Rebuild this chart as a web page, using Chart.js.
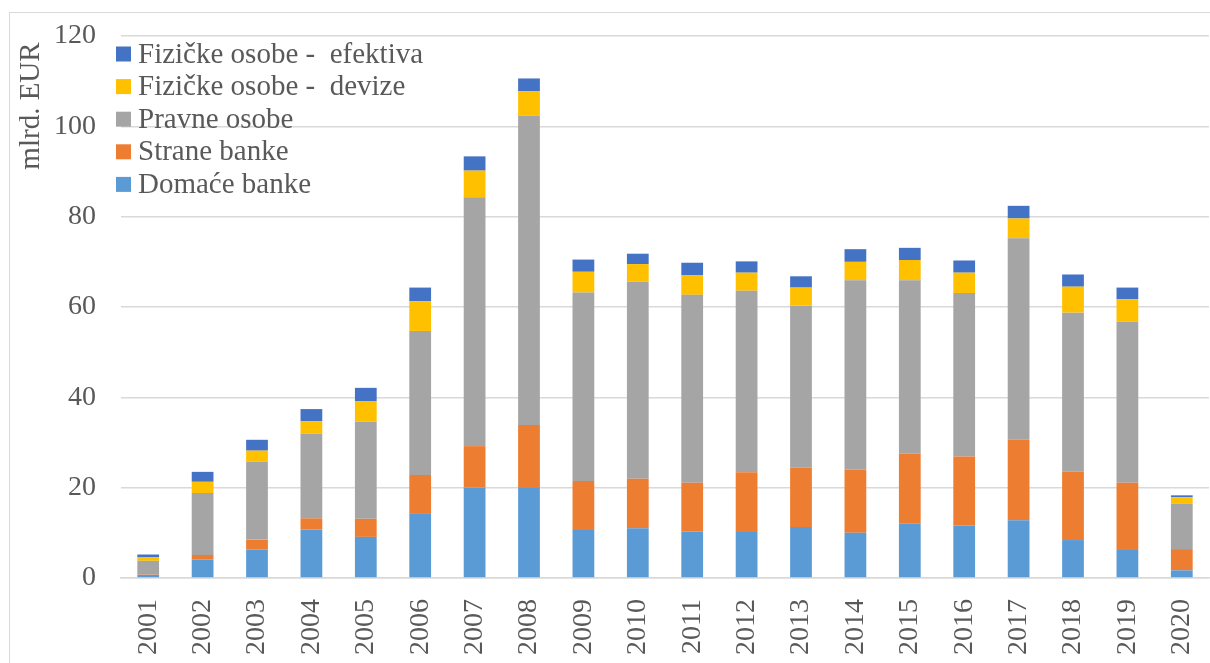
<!DOCTYPE html>
<html>
<head>
<meta charset="utf-8">
<script src="https://cdn.jsdelivr.net/npm/chart.js@4/dist/chart.umd.min.js"></script>
<style>
  html, body { margin: 0; padding: 0; background: #ffffff; }
  #wrap { position: relative; width: 1210px; height: 663px; }
</style>
</head>
<body>
<div id="wrap"><canvas id="c" width="1210" height="663"></canvas></div>
<script>
const years = ['2001','2002','2003','2004','2005','2006','2007','2008','2009','2010',
               '2011','2012','2013','2014','2015','2016','2017','2018','2019','2020'];
const domaceBanke = [0.7, 4.1, 6.3, 10.7, 9.1, 14.2, 20.0, 19.9, 10.6, 11.0,
                     10.3, 10.2, 11.3, 10.0, 12.0, 11.6, 12.8, 8.4, 6.2, 1.7];
const straneBanke = [0.1, 1.0, 2.2, 2.5, 4.0, 8.6, 9.2, 14.0, 10.9, 11.0,
                     10.8, 13.2, 13.1, 14.0, 15.5, 15.3, 17.8, 15.1, 14.9, 4.7];
const pravneOsobe = [3.0, 13.7, 17.2, 18.7, 21.5, 31.9, 55.1, 68.5, 41.7, 43.6,
                     41.6, 40.2, 35.9, 41.9, 38.4, 36.2, 44.6, 35.25, 35.6, 10.1];
const fizickeDevize = [0.75, 2.5, 2.5, 2.8, 4.5, 6.6, 5.9, 5.4, 4.6, 3.9,
                       4.3, 4.0, 4.0, 4.1, 4.5, 4.5, 4.4, 5.75, 5.0, 1.4];
const fizickeEfektiva = [0.65, 2.2, 2.4, 2.7, 3.0, 3.0, 3.15, 2.8, 2.7, 2.3,
                         2.8, 2.5, 2.5, 2.8, 2.7, 2.7, 2.8, 2.7, 2.6, 0.4];
const yTicks = [0, 20, 40, 60, 80, 100, 120];
const yTitle = 'mlrd. EUR';

const FONT = '"Liberation Serif", "Times New Roman", serif';
const TXT = '#595959';

const frame = {
  id: 'frame',
  beforeDraw(chart) {
    const ctx = chart.ctx;
    ctx.save();
    ctx.strokeStyle = '#d9d9d9';
    ctx.lineWidth = 1;
    ctx.strokeRect(9.5, 12.5, 1300, 700);
    ctx.restore();
  },
  afterDraw(chart) {
    const ctx = chart.ctx;
    ctx.save();
    ctx.fillStyle = TXT;
    ctx.font = '29px ' + FONT;
    ctx.textAlign = 'center';
    ctx.textBaseline = 'middle';
    ctx.translate(31, 106);
    ctx.rotate(-Math.PI / 2);
    ctx.fillText(yTitle, 0, 0);
    ctx.restore();
    ctx.save();
    ctx.font = '29px ' + FONT;
    ctx.textBaseline = 'middle';
    ctx.textAlign = 'left';
    const ds = chart.data.datasets.slice().reverse();
    ds.forEach((d, i) => {
      const cy = 54 + i * 32.6;
      ctx.fillStyle = d.backgroundColor;
      ctx.fillRect(116, cy - 7.5, 15, 15);
      ctx.fillStyle = TXT;
      ctx.fillText(d.label, 138, cy + 1);
    });
    ctx.restore();
  }
};

new Chart(document.getElementById('c'), {
  type: 'bar',
  data: {
    labels: years,
    datasets: [
      { label: 'Domaće banke', data: domaceBanke, backgroundColor: '#5B9BD5' },
      { label: 'Strane banke', data: straneBanke, backgroundColor: '#ED7D31' },
      { label: 'Pravne osobe', data: pravneOsobe, backgroundColor: '#A5A5A5' },
      { label: 'Fizičke osobe -  devize', data: fizickeDevize, backgroundColor: '#FFC000' },
      { label: 'Fizičke osobe -  efektiva', data: fizickeEfektiva, backgroundColor: '#4472C4' }
    ].map(d => Object.assign(d, {
      categoryPercentage: 1.0,
      barPercentage: 0.4,
      borderWidth: 0
    }))
  },
  options: {
    responsive: false,
    animation: false,
    devicePixelRatio: 1,
    layout: { padding: { top: 36, right: 1, bottom: 0, left: 0 } },
    plugins: {
      legend: { display: false },
      tooltip: { enabled: false }
    },
    scales: {
      x: {
        stacked: true,
        grid: { display: false },
        border: { display: true, color: '#d9d9d9', width: 1.5 },
        ticks: {
          color: TXT,
          font: { family: FONT, size: 28 },
          minRotation: 90,
          maxRotation: 90,
          padding: 13,
          autoSkip: false
        },
        afterFit(scale) {
          scale.height = 85;
          scale.paddingLeft = 0;
          scale.paddingRight = 0;
        }
      },
      y: {
        stacked: true,
        min: 0,
        max: 120,
        afterBuildTicks(scale) { scale.ticks = yTicks.map(v => ({ value: v })); },
        grid: { color: '#d9d9d9', lineWidth: 1.5, drawTicks: false },
        border: { display: false },
        ticks: {
          color: TXT,
          font: { family: FONT, size: 28 },
          padding: 25
        },
        afterFit(scale) {
          scale.width = 121;
          scale.paddingTop = 0;
          scale.paddingBottom = 0;
        }
      }
    }
  },
  plugins: [frame]
});
</script>
</body>
</html>
